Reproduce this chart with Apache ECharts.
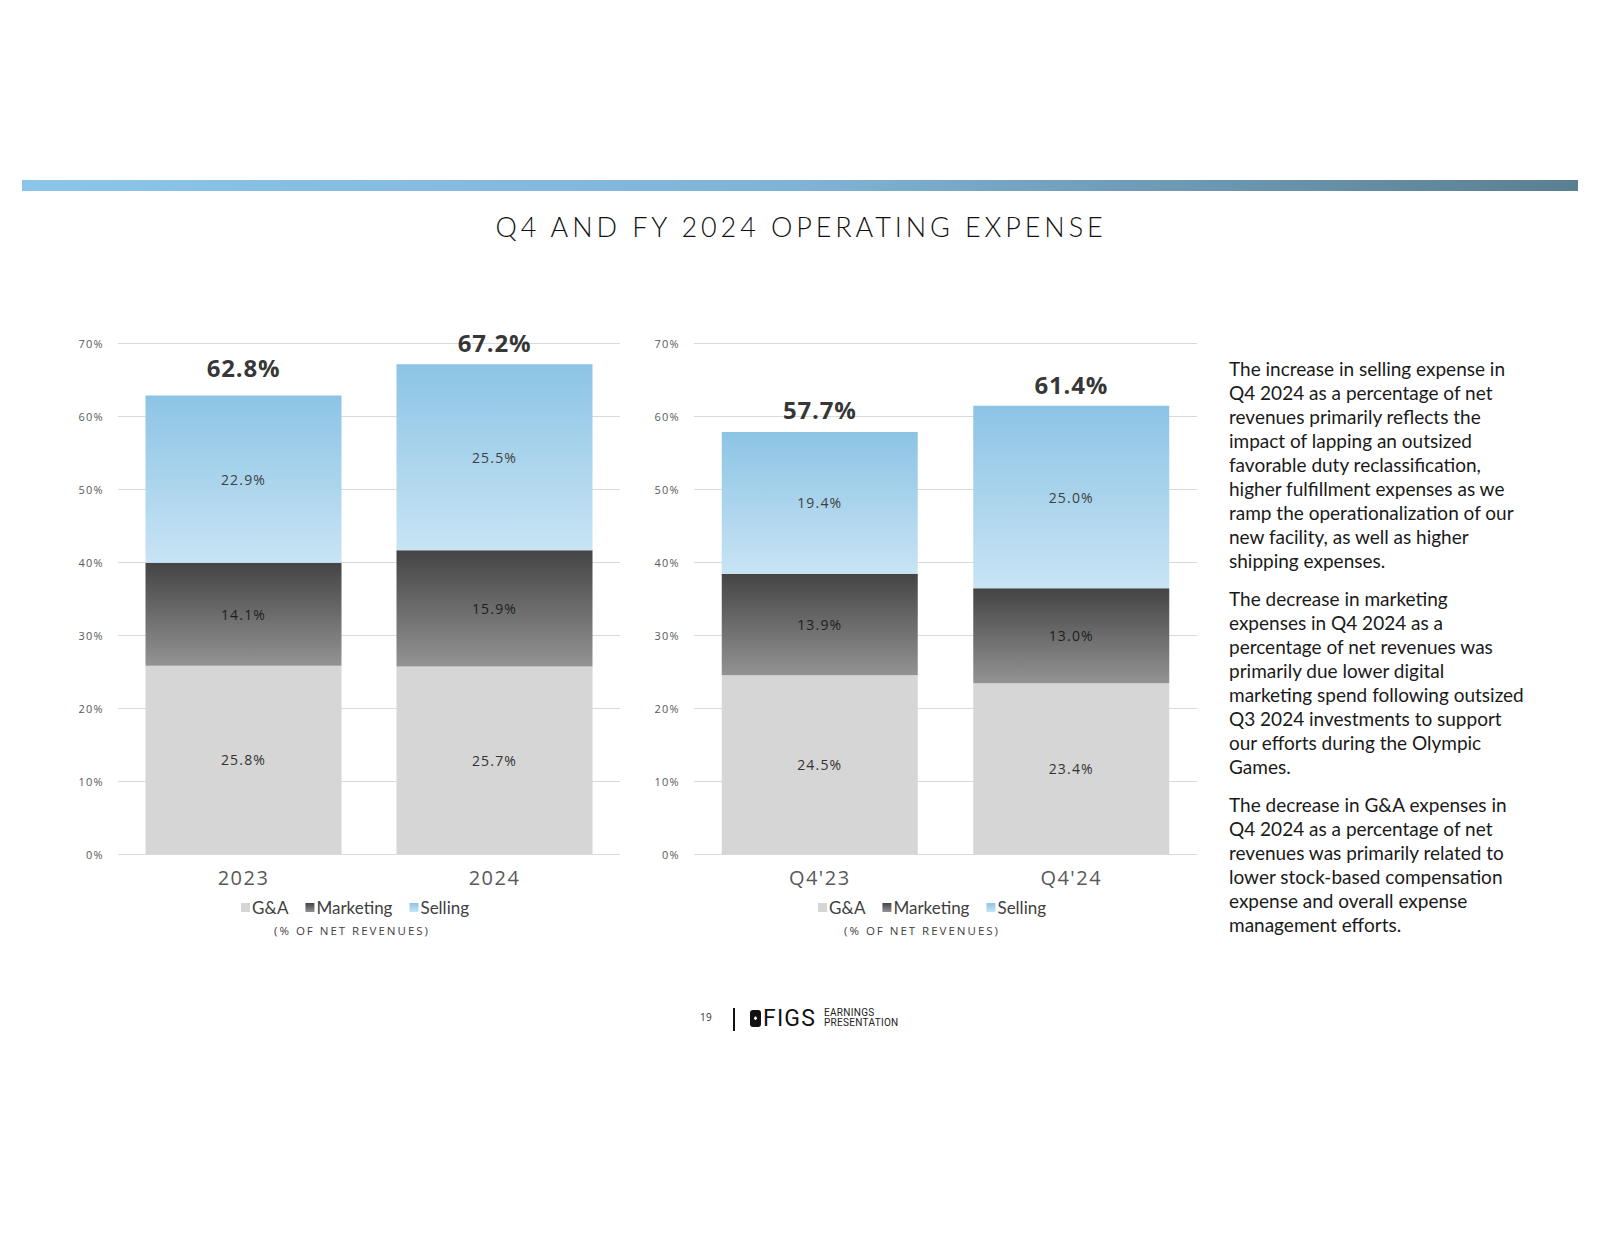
<!DOCTYPE html>
<html><head><meta charset="utf-8">
<script src="https://cdn.jsdelivr.net/npm/echarts@6/dist/echarts.min.js"></script>
<style>html,body{margin:0;padding:0;background:#fff}#c{width:1600px;height:1236px}</style>
</head><body><div id="c"></div>
<script>
// ---- data ----
var catsFY = ['2023', '2024'];
var catsQ = ["Q4'23", "Q4'24"];
var seriesNames = ['G&A', 'Marketing', 'Selling'];
var gaFY = [25.8, 25.7];
var mkFY = [14.1, 15.9];
var slFY = [22.9, 25.5];
var totFY = [62.8, 67.2];
var gaQ = [24.5, 23.4];
var mkQ = [13.9, 13.0];
var slQ = [19.4, 25.0];
var totQ = [57.7, 61.4];
var yTicks = [0, 10, 20, 30, 40, 50, 60, 70];
var title = 'Q4 AND FY 2024 OPERATING EXPENSE';
var subTitle = '(% OF NET REVENUES)';
var paragraphs = [
  ['The increase in selling expense in', 'Q4 2024 as a percentage of net', 'revenues primarily reflects the', 'impact of lapping an outsized', 'favorable duty reclassification,', 'higher fulfillment expenses as we', 'ramp the operationalization of our', 'new facility, as well as higher', 'shipping expenses.'],
  ['The decrease in marketing', 'expenses in Q4 2024 as a', 'percentage of net revenues was', 'primarily due lower digital', 'marketing spend following outsized', 'Q3 2024 investments to support', 'our efforts during the Olympic', 'Games.'],
  ['The decrease in G&A expenses in', 'Q4 2024 as a percentage of net', 'revenues was primarily related to', 'lower stock-based compensation', 'expense and overall expense', 'management efforts.']
];

// ---- styles ----
var G = echarts.graphic;
var colGA = '#d6d6d6';
var colMK = new G.LinearGradient(0, 0, 0, 1, [{offset: 0, color: '#444444'}, {offset: 1, color: '#939393'}]);
var colSL = new G.LinearGradient(0, 0, 0, 1, [{offset: 0, color: '#8cc4e5'}, {offset: 1, color: '#c8e4f4'}]);
var numFont = 'Open Sans';
var textFont = 'Lato';

var chart = echarts.init(document.getElementById('c'), null, {renderer: 'svg'});

function innerLabel(color) {
  return {show: true, position: 'inside', color: color, fontSize: 14, fontFamily: numFont,
    formatter: function (p) { return p.value.toFixed(1) + '%'; }};
}

var grids = [
  {left: 118, width: 502, top: 343, bottom: 382},
  {left: 694, width: 503, top: 343, bottom: 382}
];

var xAxes = [], yAxes = [];
[[catsFY, 0], [catsQ, 1]].forEach(function (d) {
  xAxes.push({type: 'category', data: d[0], gridIndex: d[1], axisLine: {show: false}, axisTick: {show: false},
    axisLabel: {color: '#595959', fontSize: 20, fontFamily: numFont, margin: 13}});
  yAxes.push({type: 'value', gridIndex: d[1], min: yTicks[0], max: yTicks[yTicks.length - 1], interval: 10,
    axisLine: {show: false}, axisTick: {show: false},
    splitLine: {lineStyle: {color: '#d9d9d9', width: 1}},
    axisLabel: {color: '#595959', fontSize: 11, fontFamily: numFont, margin: 14,
      formatter: function (v) { return v + '%'; }}});
});

function barSet(axisIdx, ga, mk, sl, tot, stack, offsets) {
  return [
    {name: seriesNames[0], type: 'bar', stack: stack, xAxisIndex: axisIdx, yAxisIndex: axisIdx, data: ga, barWidth: 196,
      itemStyle: {color: colGA}, label: innerLabel('#333333'), emphasis: {disabled: true}},
    {name: seriesNames[1], type: 'bar', stack: stack, xAxisIndex: axisIdx, yAxisIndex: axisIdx, data: mk, barWidth: 196,
      itemStyle: {color: colMK}, label: innerLabel('#1e1e1e'), emphasis: {disabled: true}},
    {name: seriesNames[2], type: 'bar', stack: stack, xAxisIndex: axisIdx, yAxisIndex: axisIdx, data: sl, barWidth: 196,
      itemStyle: {color: colSL}, label: innerLabel('#404040'), emphasis: {disabled: true}},
    {name: 'total', type: 'scatter', xAxisIndex: axisIdx, yAxisIndex: axisIdx, symbolSize: 0,
      data: tot.map(function (v, i) { return {value: v, label: {offset: [0, offsets[i]]}}; }),
      label: {show: true, position: 'top', distance: 9, color: '#000', fontSize: 24, fontWeight: 'bold', fontFamily: numFont,
        formatter: function (p) { return p.value.toFixed(1) + '%'; }}, emphasis: {disabled: true}, z: 5}
  ];
}

var series = [].concat(barSet(0, gaFY, mkFY, slFY, totFY, 'fy', [-7, 0]), barSet(1, gaQ, mkQ, slQ, totQ, 'q', [-2, 0]));

function legend(left) {
  return {left: left, top: 894, data: seriesNames, icon: 'rect', itemWidth: 9, itemHeight: 9, itemGap: 17,
    textStyle: {color: '#404040', fontSize: 17, fontFamily: textFont, padding: [0, 0, 0, -3]}, selectedMode: false};
}

var graphics = [
  {type: 'rect', shape: {x: 22, y: 180, width: 1556, height: 11}, style: {fill: new G.LinearGradient(0, 0, 1, 0, [{offset: 0, color: '#8bc5ea'}, {offset: 0.5, color: '#7fb3d6'}, {offset: 1, color: '#5a7f90'}])}},
  {type: 'text', x: 801, y: 226, style: {text: title, fill: '#111', fontSize: 27, fontFamily: textFont, fontWeight: 300, align: 'center', verticalAlign: 'middle'}},
  {type: 'text', x: 352, y: 930, style: {text: subTitle, fill: '#404040', fontSize: 11.5, fontFamily: numFont, align: 'center', verticalAlign: 'middle'}},
  {type: 'text', x: 922, y: 930, style: {text: subTitle, fill: '#404040', fontSize: 11.5, fontFamily: numFont, align: 'center', verticalAlign: 'middle'}},
  // footer
  {type: 'text', x: 706, y: 1017, style: {text: '19', fill: '#333', fontSize: 10, fontFamily: numFont, align: 'center', verticalAlign: 'middle'}},
  {type: 'rect', shape: {x: 733, y: 1008, width: 2, height: 23}, style: {fill: '#111'}},
  {type: 'rect', shape: {x: 750, y: 1010, width: 11, height: 17, r: 3}, style: {fill: '#111'}},
  {type: 'rect', shape: {x: 754, y: 1017.5, width: 3, height: 1.5}, style: {fill: '#fff'}},
  {type: 'rect', shape: {x: 754.75, y: 1016.5, width: 1.5, height: 3.5}, style: {fill: '#fff'}},
  {type: 'text', x: 763, y: 1018, style: {text: 'FIGS', fill: '#111', fontSize: 23, fontFamily: 'Roboto', align: 'left', verticalAlign: 'middle'}},
  {type: 'text', x: 824, y: 1012, style: {text: 'EARNINGS', fill: '#222', fontSize: 10, fontFamily: 'Roboto', align: 'left', verticalAlign: 'middle'}},
  {type: 'text', x: 824, y: 1022, style: {text: 'PRESENTATION', fill: '#222', fontSize: 10, fontFamily: 'Roboto', align: 'left', verticalAlign: 'middle'}}
];

var paraTops = [368, 598, 804];
paragraphs.forEach(function (lines, pi) {
  lines.forEach(function (ln, li) {
    graphics.push({type: 'text', x: 1229, y: paraTops[pi] + li * 24,
      style: {text: ln, fill: '#1a1a1a', fontSize: 19, fontFamily: textFont, align: 'left', verticalAlign: 'middle'}});
  });
});

// letter spacing (applied to the SVG text nodes, keyed by font size)
var spacingBySize = {'27': 3.9, '11.5': 2, '20': 1.5, '24': 0.8, '14': 1.2, '11': 1.3, '23': 1.2, '10': 0.3};
function applySpacing() {
  var nodes = chart.getDom().querySelectorAll('text');
  nodes.forEach(function (n) {
    var st = n.getAttribute('style') || '';
    var m = st.match(/(\d+(?:\.\d+)?)px/);
    if (m && spacingBySize[m[1]] != null) {
      n.style.letterSpacing = spacingBySize[m[1]] + 'px';
    }
  });
}

chart.setOption({
  animation: false,
  grid: grids,
  xAxis: xAxes,
  yAxis: yAxes,
  legend: [legend(236), legend(813)],
  series: series,
  graphic: graphics
});
chart.on('rendered', applySpacing);
chart.on('finished', applySpacing);
applySpacing();
setTimeout(applySpacing, 50);
</script></body></html>
